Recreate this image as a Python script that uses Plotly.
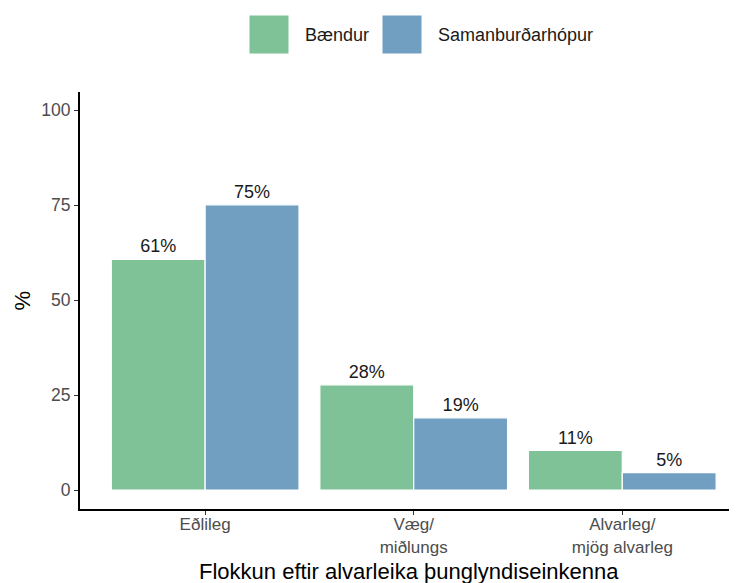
import plotly.graph_objects as go

# data
categories = ["Eðlileg", "Væg/<br>miðlungs", "Alvarleg/<br>mjög alvarleg"]
baendur = [60.7, 27.7, 10.4]
samanburdur = [75.1, 19.0, 4.6]
baendur_labels = ["61%", "28%", "11%"]
samanburdur_labels = ["75%", "19%", "5%"]
series_names = ["Bændur", "Samanburðarhópur"]
x_title = "Flokkun eftir alvarleika þunglyndiseinkenna"
y_title = "%"

GREEN = "#7FC297"
BLUE = "#719FC2"
FONT = "Liberation Sans, Arial, sans-serif"

# the page body adds an 8px offset, so the figure is sized to the visible area
OFFSET = 8
W, H = 737 - OFFSET, 583 - OFFSET
M_L, M_R, M_T, M_B = 80 - OFFSET, 0, 92 - OFFSET, 74


def px_x(px):
    # page pixel -> paper x
    return (px - OFFSET - M_L) / (W - M_L - M_R)


def px_y(py):
    # page pixel -> paper y
    return (H - M_B - (py - OFFSET)) / (H - M_T - M_B)


fig = go.Figure()
for name, vals, labels, color in [
    (series_names[0], baendur, baendur_labels, GREEN),
    (series_names[1], samanburdur, samanburdur_labels, BLUE),
]:
    fig.add_trace(
        go.Bar(
            x=list(range(len(categories))),
            y=vals,
            name=name,
            text=labels,
            textposition="outside",
            cliponaxis=False,
            textfont=dict(size=18, color="#1a1a1a", family=FONT),
            marker=dict(color=color, line=dict(color="white", width=1.2)),
            showlegend=False,
        )
    )

# legend drawn as big keys above the plot, like the ggplot original
legend_items = [(series_names[0], GREEN, 249, 303), (series_names[1], BLUE, 382, 436)]
for name, color, key_x, text_x in legend_items:
    fig.add_shape(
        type="rect", xref="paper", yref="paper",
        x0=px_x(key_x), x1=px_x(key_x + 40), y0=px_y(54), y1=px_y(15),
        fillcolor=color, line=dict(color="white", width=1),
    )
    fig.add_annotation(
        xref="paper", yref="paper", x=px_x(text_x), y=px_y(35),
        text=name, showarrow=False, xanchor="left", yanchor="middle",
        font=dict(size=18, color="#1a1a1a", family=FONT),
    )

# axis titles as annotations so they sit as tight as in the original
fig.add_annotation(
    xref="paper", yref="paper", x=0.5, y=px_y(571),
    text=x_title, showarrow=False, xanchor="center", yanchor="middle",
    font=dict(size=22, color="black", family=FONT),
)
fig.add_annotation(
    xref="paper", yref="paper", x=px_x(22), y=0.5, textangle=-90,
    text=y_title, showarrow=False, xanchor="center", yanchor="middle",
    font=dict(size=22, color="black", family=FONT),
)

fig.update_layout(
    width=W,
    height=H,
    margin=dict(l=M_L, r=M_R, t=M_T, b=M_B),
    paper_bgcolor="white",
    plot_bgcolor="white",
    barmode="group",
    bargap=0.1,
    bargroupgap=0.0,
    font=dict(family=FONT),
)
fig.update_xaxes(
    range=[-0.6, 2.55],
    tickmode="array",
    tickvals=list(range(len(categories))),
    ticktext=categories,
    showline=True, linecolor="black", linewidth=2,
    ticks="outside", ticklen=4, tickcolor="#333333",
    tickfont=dict(size=17, color="#4d4d4d"),
    ticklabelstandoff=-5,
    showgrid=False, zeroline=False,
)
fig.update_yaxes(
    range=[-5, 104.8],
    tickvals=[0, 25, 50, 75, 100],
    showline=True, linecolor="black", linewidth=2,
    ticks="outside", ticklen=4, tickcolor="#333333",
    tickfont=dict(size=17.5, color="#4d4d4d"),
    showgrid=False, zeroline=False,
)

fig.write_html("out.html")
